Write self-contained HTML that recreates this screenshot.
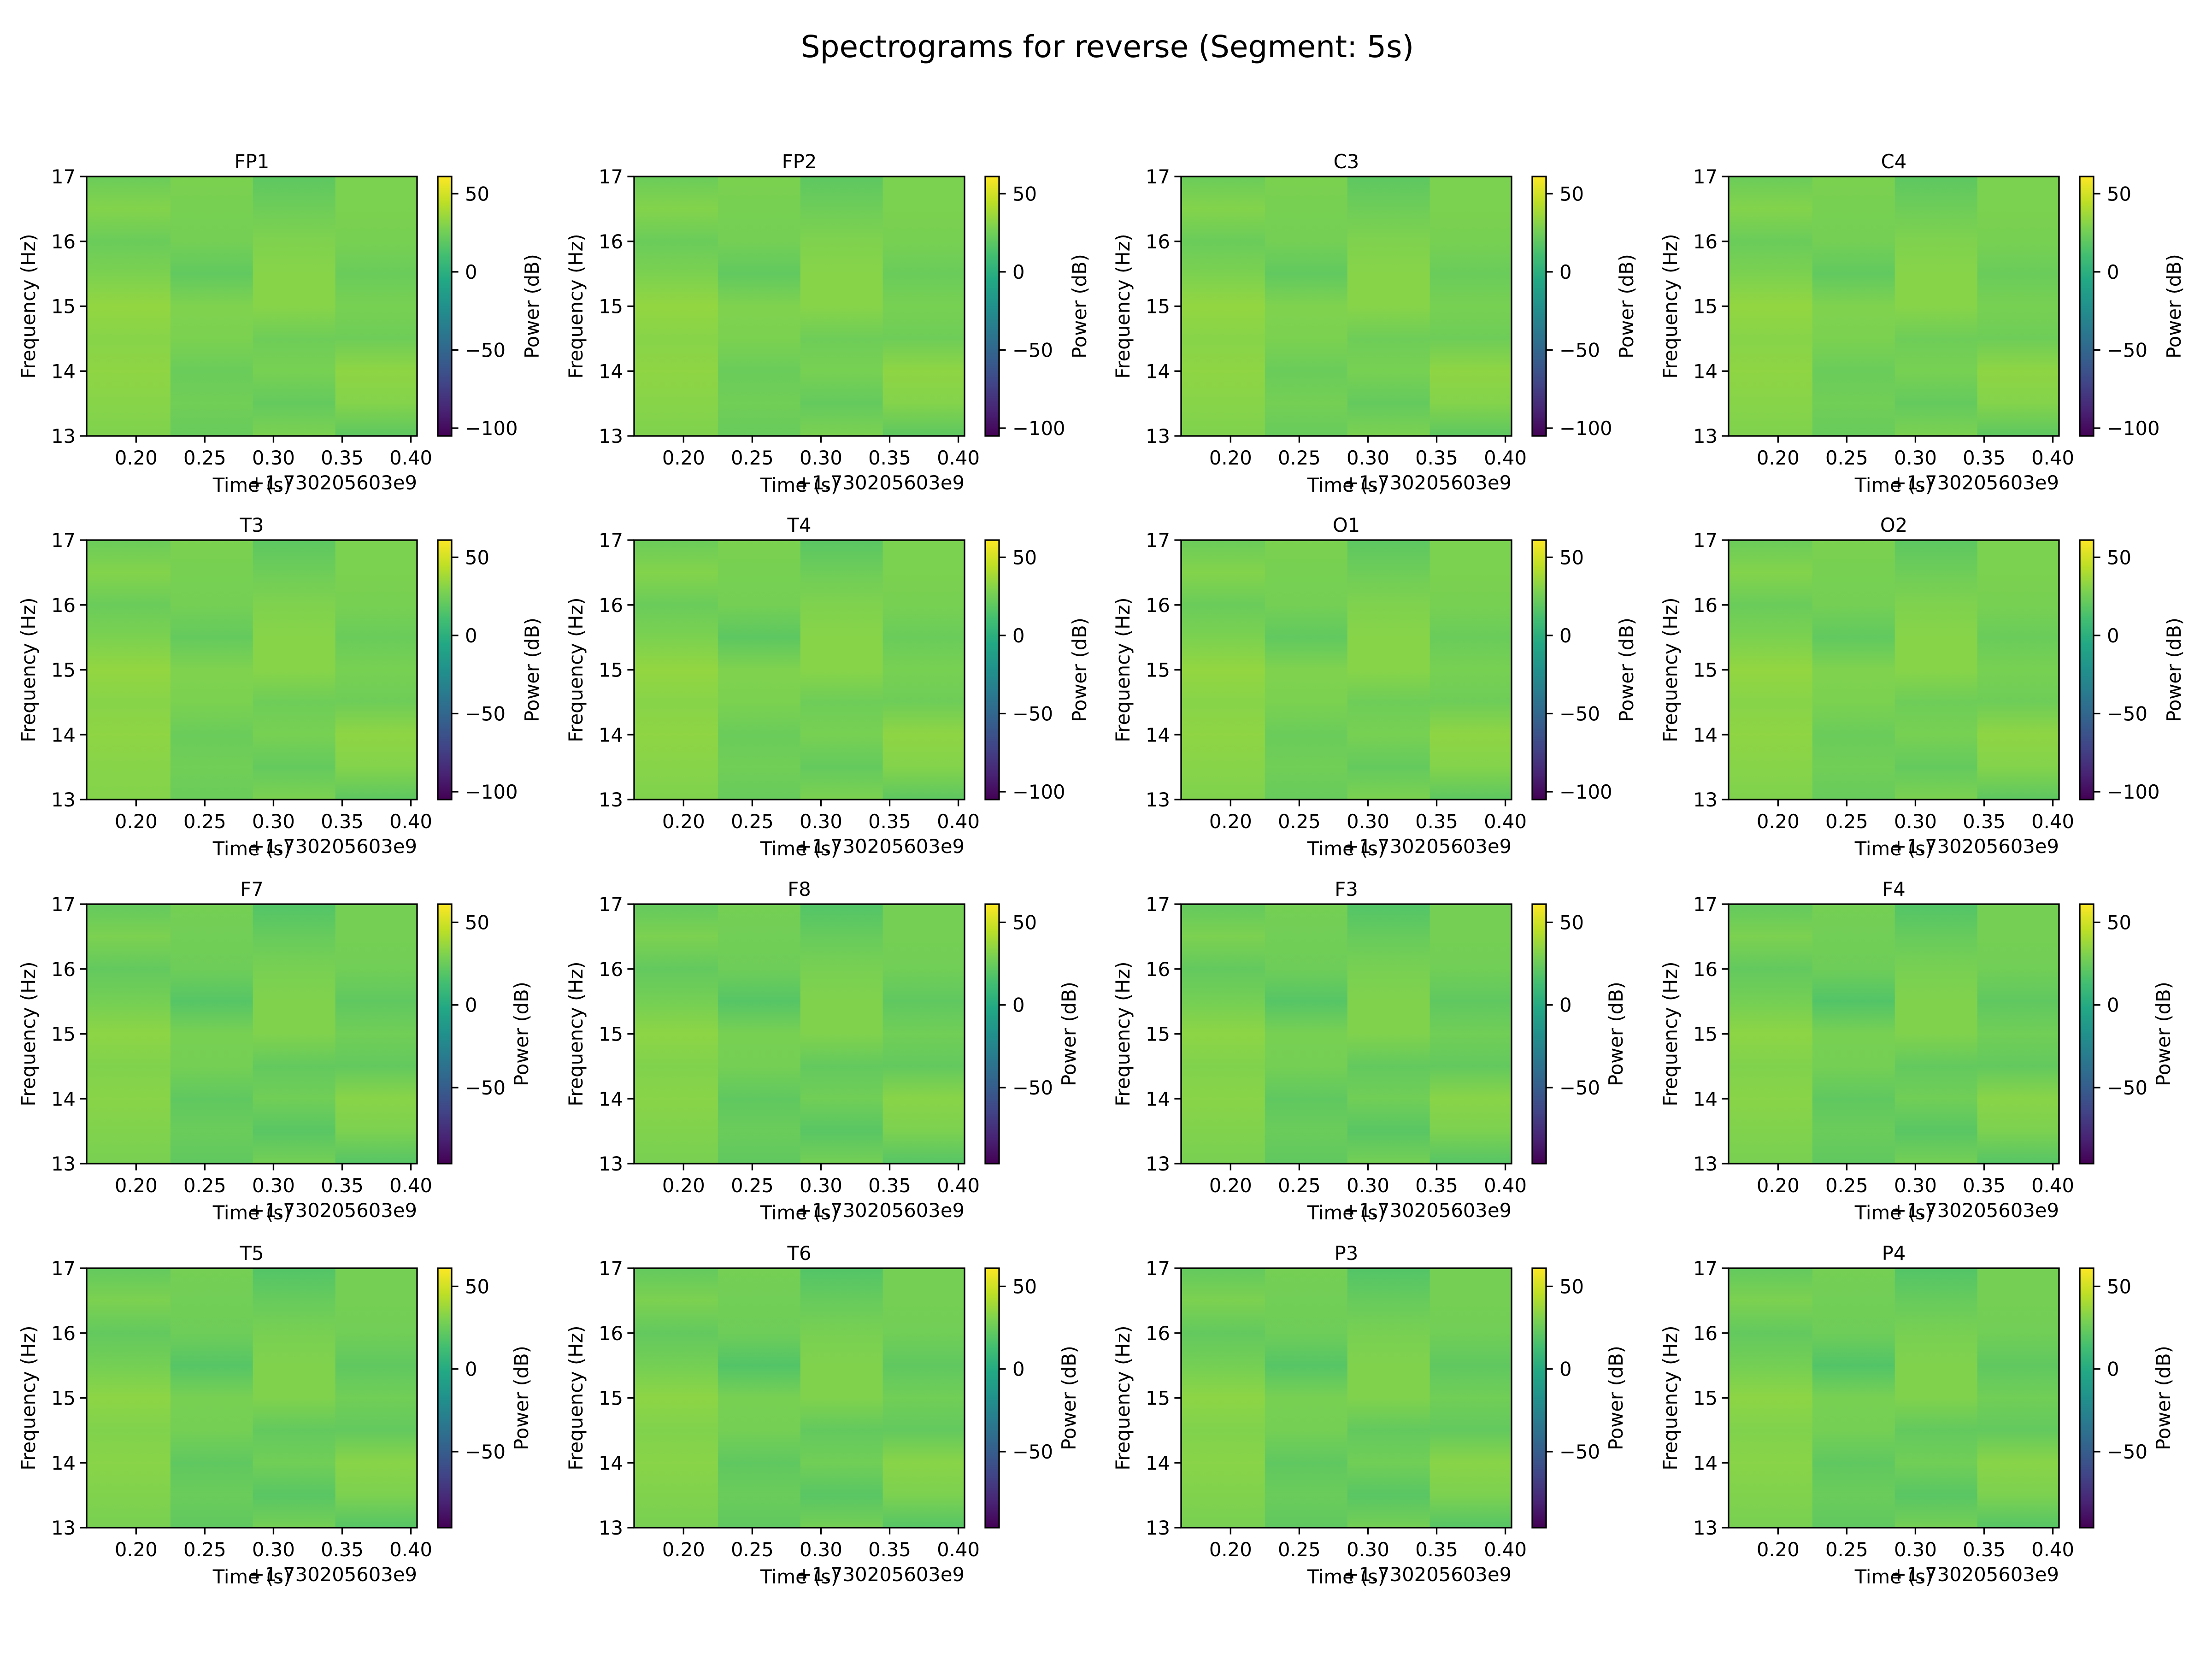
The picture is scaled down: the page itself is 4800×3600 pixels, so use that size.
<!DOCTYPE html>
<html><head><meta charset="utf-8">
<style>
html,body{margin:0;padding:0;background:#fff;}
svg{display:block;font-family:"DejaVu Sans","Liberation Sans",sans-serif;}
</style></head>
<body>
<svg id="fig" xmlns="http://www.w3.org/2000/svg" width="4800" height="3600" viewBox="0 0 4800 3600">
<rect x="0" y="0" width="4800" height="3600" fill="#ffffff"/>
<text x="2403" y="124" font-size="66" text-anchor="middle">Spectrograms for reverse (Segment: 5s)</text>
<defs id="defs"></defs>
</svg>
<script>
// ---- data ----
const channels = ["FP1","FP2","C3","C4","T3","T4","O1","O2","F7","F8","F3","F4","T5","T6","P3","P4"];
const freqs = [13,13.5,14,14.5,15,15.5,16,16.5,17];
const timeEdges = [0.164,0.225,0.285,0.345,0.4045];
const xTicks = [0.20,0.25,0.30,0.35,0.40];
const xTickLabels = ["0.20","0.25","0.30","0.35","0.40"];
const yTicks = [13,14,15,16,17];
const cbarMin = [-105,-105,-105,-105,-105,-105,-105,-105,-96,-96,-96,-96,-96,-96,-96,-96];
const cbarMax = [61,61,61,61,61,61,61,61,61,61,61,61,61,61,61,61];
const cbarTicksLong = [50,0,-50,-100];
const cbarTicksShort = [50,0,-50];
// values[channel][timeColumn] listed from 13 Hz to 17 Hz (dB)
const valuesFP1 = [[29,31,33,31,34,28,23,30,23],[22,25,23,28,29,20,26,27,28],[28,21,27,24,31,31,29,24,19],[19,30,33,24,27,23,27,28,28]];
const valuesFP2 = [[29,31,33,31,34,28,23,30,23],[22,25,23,28,29,20,26,27,28],[28,21,27,24,31,31,29,24,19],[19,30,33,24,27,23,27,28,28]];
const valuesC3  = [[29,31,33,31,34,28,23,30,23],[22,26,23,28,29,20,26,27,28],[28,21,27,24,31,31,29,24,19],[19,30,33,24,27,23,27,28,28]];
const valuesC4  = [[29,31,33,31,34,28,23,30,23],[22,25,23,28,29,20,26,27,28],[28,21,27,24,31,31,29,24,19],[19,30,33,24,27,23,27,28,28]];
const valuesT3  = [[30,31,33,31,34,28,23,30,23],[23,25,23,28,29,21,26,27,28],[28,21,27,24,31,31,29,24,19],[19,30,33,24,27,23,27,28,28]];
const valuesT4  = [[29,31,33,31,34,28,23,30,23],[22,25,23,28,29,19,26,27,28],[28,21,27,24,31,31,29,24,18],[19,30,33,24,27,23,27,28,28]];
const valuesO1  = [[29,31,33,31,34,28,23,30,23],[22,25,23,28,29,20,26,27,28],[28,21,27,24,31,31,29,24,19],[19,30,33,24,27,23,27,28,28]];
const valuesO2  = [[29,31,33,31,34,28,23,30,23],[22,25,23,28,29,20,26,27,28],[28,21,27,24,31,31,29,24,19],[19,30,33,24,27,23,27,28,28]];
const valuesF7  = [[29,31,33,31,34,28,23,30,23],[22,25,22,28,29,19,26,27,28],[28,20,27,23,31,31,29,24,18],[19,30,33,23,27,22,27,28,28]];
const valuesF8  = [[29,31,33,31,34,28,23,30,23],[22,25,22,28,29,19,26,27,28],[28,20,27,23,31,31,29,24,18],[19,30,33,23,27,22,27,28,28]];
const valuesF3  = [[29,31,33,31,34,28,23,30,23],[22,25,22,28,29,19,26,27,28],[28,20,27,23,31,31,29,24,18],[19,30,33,23,27,22,27,28,28]];
const valuesF4  = [[29,31,33,31,34,28,23,30,23],[22,25,22,28,29,18,26,27,28],[28,20,27,23,31,31,29,24,18],[19,30,33,23,27,22,27,28,28]];
const valuesT5  = [[29,31,33,31,34,28,23,30,23],[22,25,22,28,29,19,26,27,28],[28,20,27,23,31,31,29,24,18],[19,30,33,23,27,22,27,28,28]];
const valuesT6  = [[29,31,33,31,34,28,23,30,23],[22,25,22,28,29,18,26,27,28],[28,20,27,23,31,31,29,24,18],[19,30,33,23,27,22,27,28,28]];
const valuesP3  = [[29,31,33,31,34,28,23,30,23],[22,25,22,28,29,19,26,27,28],[28,20,27,23,31,31,29,24,18],[19,30,33,23,27,22,27,28,28]];
const valuesP4  = [[29,31,33,31,34,28,23,30,23],[22,25,22,28,29,18,26,27,28],[28,20,27,23,31,31,29,24,18],[19,30,33,23,27,22,27,28,28]];
const allValues = [valuesFP1,valuesFP2,valuesC3,valuesC4,valuesT3,valuesT4,valuesO1,valuesO2,valuesF7,valuesF8,valuesF3,valuesF4,valuesT5,valuesT6,valuesP3,valuesP4];

// ---- drawing ----
const NS = "http://www.w3.org/2000/svg";
const svg = document.getElementById("fig");
const defs = document.getElementById("defs");
const vir = ["#440154","#482475","#414487","#355f8d","#2a788e","#21918c","#22a884","#44bf70","#7ad151","#bddf26","#fde725"];
function hex(c){return [parseInt(c.substr(1,2),16),parseInt(c.substr(3,2),16),parseInt(c.substr(5,2),16)];}
function viridis(t){
  t=Math.max(0,Math.min(1,t));
  const p=t*10, i=Math.min(9,Math.floor(p)), f=p-i;
  const a=hex(vir[i]), b=hex(vir[i+1]);
  return "rgb("+a.map((v,k)=>Math.round(v+(b[k]-v)*f)).join(",")+")";
}
function mk(tag, attrs, parent){
  const e=document.createElementNS(NS,tag);
  for(const k in attrs) e.setAttribute(k,attrs[k]);
  (parent||svg).appendChild(e);
  return e;
}
const W=717, H=563, LW=3.3, TL=14.6, FS=41.7;
const colLeft=[188,1376,2563,3751];
const rowTop=[383,1172,1962,2752];

channels.forEach((name,ci)=>{
  const L=colLeft[ci%4], T=rowTop[Math.floor(ci/4)], B=T+H, R=L+W;
  const tMin=timeEdges[0], tMax=timeEdges[timeEdges.length-1];
  const xs=t=>L+(t-tMin)/(tMax-tMin)*W;
  const ys=f=>B-(f-13)/(17-13)*H;
  const vmin=cbarMin[ci], vmax=cbarMax[ci];
  const norm=v=>(v-vmin)/(vmax-vmin);
  const g=mk("g",{});
  
  
  const vals=allValues[ci];
  for(let c=0;c<vals.length;c++){
    const x0=xs(timeEdges[c]), x1=xs(timeEdges[c+1]);
    for(let k=0;k<freqs.length-1;k++){
      const gid="g"+ci+"_"+c+"_"+k;
      const lg=mk("linearGradient",{id:gid,x1:0,y1:1,x2:0,y2:0},defs);
      mk("stop",{offset:0,"stop-color":viridis(norm(vals[c][k]))},lg);
      mk("stop",{offset:1,"stop-color":viridis(norm(vals[c][k+1]))},lg);
      const y0=ys(freqs[k+1]), y1=ys(freqs[k]);
      const r=mk("rect",{x:x0,y:y0-0.5,width:x1-x0+0.5,height:y1-y0+1,fill:"url(#"+gid+")"},g);
      
      
    }
  }
  const fr=mk("rect",{x:L,y:T,width:W,height:H,fill:"none",stroke:"#000","stroke-width":LW},g);
  
  
  const tt=mk("text",{x:L+W/2,y:T-18,"font-size":FS,"text-anchor":"middle"},g);
  tt.textContent=name;
  
  
  yTicks.forEach(f=>{
    mk("line",{x1:L-TL,x2:L,y1:ys(f),y2:ys(f),stroke:"#000","stroke-width":LW},g);
    const t=mk("text",{x:L-24,y:ys(f)+15,"font-size":FS,"text-anchor":"end"},g);
    t.textContent=String(f);
    
    
  });
  xTicks.forEach((v,i)=>{
    mk("line",{x1:xs(v),x2:xs(v),y1:B,y2:B+TL,stroke:"#000","stroke-width":LW},g);
    const t=mk("text",{x:xs(v),y:B+62,"font-size":FS,"text-anchor":"middle"},g);
    t.textContent=xTickLabels[i];
    
    
  });
  const xl=mk("text",{x:L+W/2,y:B+121,"font-size":FS,"text-anchor":"middle"},g);
  xl.textContent="Time (s)";
  
  
  const off=mk("text",{x:R,y:B+116,"font-size":FS,"text-anchor":"end"},g);
  off.textContent="+1.730205603e9";
  
  
  const yl=mk("text",{x:0,y:0,"font-size":FS,"text-anchor":"middle",transform:"translate("+(L-112)+","+(T+H/2)+") rotate(-90)"},g);
  yl.textContent="Frequency (Hz)";
  
  
  // colorbar
  const CX=L+762, CW=30;
  const cy=v=>B-(v-vmin)/(vmax-vmin)*H;
  const cg=mk("linearGradient",{id:"cb"+ci,x1:0,y1:1,x2:0,y2:0},defs);
  for(let s=0;s<=10;s++) mk("stop",{offset:s/10,"stop-color":vir[s]},cg);
  const cb=mk("rect",{x:CX,y:T,width:CW,height:H,fill:"url(#cb"+ci+")",stroke:"#000","stroke-width":LW},g);
  
  
  const ticks=vmin<=-100?cbarTicksLong:cbarTicksShort;
  ticks.forEach(v=>{
    mk("line",{x1:CX+CW,x2:CX+CW+TL,y1:cy(v),y2:cy(v),stroke:"#000","stroke-width":LW},g);
    const t=mk("text",{x:CX+CW+29,y:cy(v)+15,"font-size":FS},g);
    t.textContent=v<0?"\u2212"+Math.abs(v):String(v);
    
    
  });
  const lx = vmin<=-100 ? L+967 : L+944;
  const cl=mk("text",{x:0,y:0,"font-size":FS,"text-anchor":"middle",transform:"translate("+(lx+14)+","+(T+H/2)+") rotate(-90)"},g);
  cl.textContent="Power (dB)";
  
  
});
</script>
</body></html>
